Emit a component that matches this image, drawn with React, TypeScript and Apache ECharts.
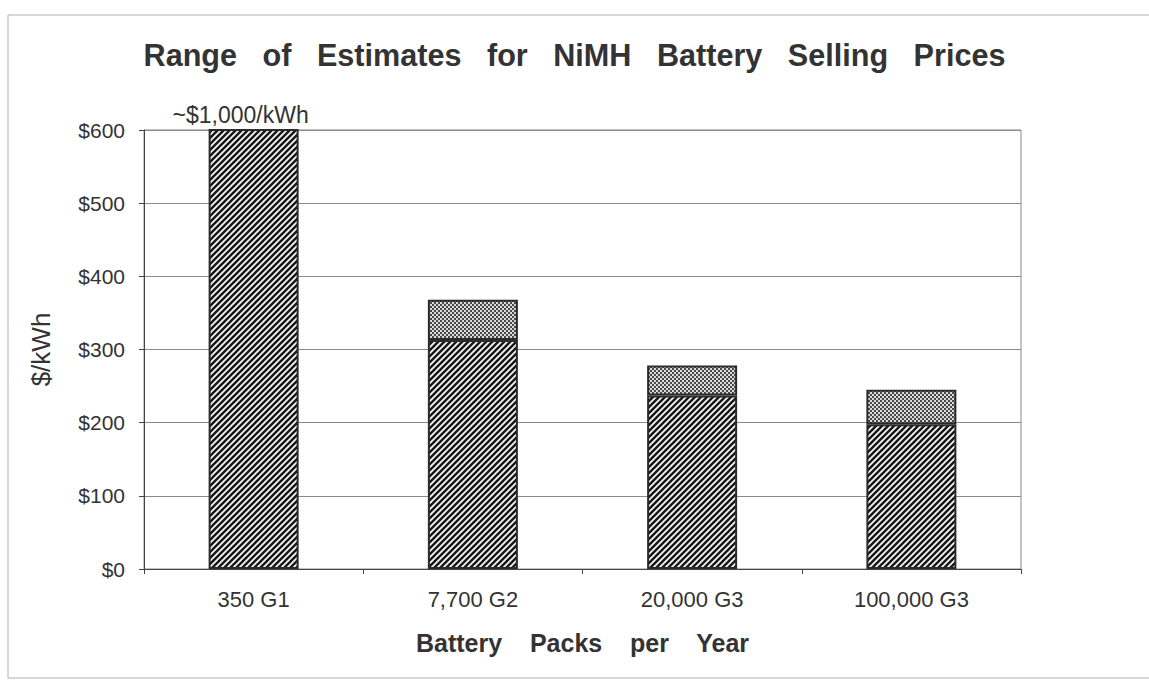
import React, { useEffect, useRef } from 'react';
import * as echarts from 'echarts';

const categories = ['350 G1', '7,700 G2', '20,000 G3', '100,000 G3'];
const lowEstimate = [1000, 313, 237, 198];
const highEstimate: (number | null)[] = [null, 368, 278, 245];
const yTicks = [0, 100, 200, 300, 400, 500, 600];
const firstBarNote = '~$1,000/kWh';
const titleText = 'Range   of   Estimates   for   NiMH   Battery   Selling   Prices';
const xName = 'Battery    Packs    per    Year';
const yName = '$/kWh';

const FONT = '"Liberation Sans", Arial, Helvetica, sans-serif';

function makeHatch(): HTMLCanvasElement {
  const s = 6;
  const c = document.createElement('canvas');
  c.width = s;
  c.height = s;
  const ctx = c.getContext('2d')!;
  ctx.fillStyle = '#ffffff';
  ctx.fillRect(0, 0, s, s);
  ctx.strokeStyle = '#1a1a1a';
  ctx.lineWidth = 2.6;
  ctx.beginPath();
  for (const k of [-s, 0, s]) {
    ctx.moveTo(k - 1, s + 1);
    ctx.lineTo(k + s + 1, -1);
  }
  ctx.stroke();
  return c;
}

function makeDots(): HTMLCanvasElement {
  const c = document.createElement('canvas');
  c.width = 4;
  c.height = 4;
  const ctx = c.getContext('2d')!;
  ctx.fillStyle = '#d9d9d9';
  ctx.fillRect(0, 0, 4, 4);
  ctx.fillStyle = '#4a4a4a';
  ctx.fillRect(0, 0, 2, 2);
  ctx.fillRect(2, 2, 2, 2);
  return c;
}

export default function App() {
  const ref = useRef<HTMLDivElement>(null);

  useEffect(() => {
    document.body.style.margin = '0';
    if (!ref.current) return;
    const chart = echarts.init(ref.current, undefined, { renderer: 'svg' });
    const hatch = makeHatch();
    const dots = makeDots();

    const lowData = lowEstimate.map((v, i) =>
      i === 0
        ? {
            value: v,
            label: {
              show: true,
              position: 'top',
              formatter: firstBarNote,
              offset: [-13, 0],
              distance: 3,
              fontSize: 23,
              color: '#333',
              fontFamily: FONT,
            },
          }
        : v
    );
    const highData = highEstimate.map((v, i) => (v == null ? '-' : v - lowEstimate[i]));

    chart.setOption({
      animation: false,
      backgroundColor: '#ffffff',
      title: {
        text: titleText,
        left: 'center',
        top: 34,
        textStyle: {
          fontSize: 30.6,
          fontWeight: 'bold',
          color: '#333',
          fontFamily: FONT,
        },
      },
      graphic: [
        {
          type: 'rect',
          silent: true,
          shape: { x: 8, y: 15, width: 1160, height: 663 },
          style: { fill: 'none', stroke: '#b0b0b0', lineWidth: 1 },
        },
      ],
      grid: {
        left: 144,
        right: 128,
        top: 130,
        bottom: 114,
        show: true,
        borderColor: '#888',
        borderWidth: 1,
        containLabel: false,
      },
      xAxis: {
        type: 'category',
        data: categories,
        name: xName,
        nameLocation: 'middle',
        nameGap: 61,
        nameTextStyle: {
          fontSize: 25,
          fontWeight: 'bold',
          color: '#333',
          fontFamily: FONT,
        },
        axisLine: { show: true, lineStyle: { color: '#444', width: 1 } },
        axisTick: { show: true, length: 5, lineStyle: { color: '#444' } },
        axisLabel: { fontSize: 22, margin: 19, color: '#333', fontFamily: FONT },
        splitLine: { show: false },
      },
      yAxis: {
        type: 'value',
        min: yTicks[0],
        max: yTicks[yTicks.length - 1],
        interval: yTicks[1] - yTicks[0],
        name: yName,
        nameLocation: 'middle',
        nameGap: 90,
        nameTextStyle: { fontSize: 26, color: '#333', fontFamily: FONT },
        axisLine: { show: true, lineStyle: { color: '#444', width: 1 } },
        axisTick: { show: true, length: 5, lineStyle: { color: '#444' } },
        axisLabel: {
          fontSize: 21,
          margin: 19,
          color: '#333',
          fontFamily: FONT,
          formatter: (v: number) => '$' + v,
        },
        splitLine: { show: true, lineStyle: { color: '#8a8a8a', width: 1 } },
      },
      series: [
        {
          type: 'bar',
          name: 'Low estimate',
          stack: 'range',
          data: lowData,
          barWidth: 90,
          clip: true,
          itemStyle: {
            color: { image: hatch, repeat: 'repeat' },
            borderColor: '#2a2a2a',
            borderWidth: 2,
          },
        },
        {
          type: 'bar',
          name: 'High estimate',
          stack: 'range',
          data: highData,
          barWidth: 90,
          clip: true,
          itemStyle: {
            color: { image: dots, repeat: 'repeat' },
            borderColor: '#2a2a2a',
            borderWidth: 2,
          },
        },
      ],
    });

    return () => {
      chart.dispose();
    };
  }, []);

  return <div ref={ref} style={{ width: 1149, height: 683 }} />;
}
